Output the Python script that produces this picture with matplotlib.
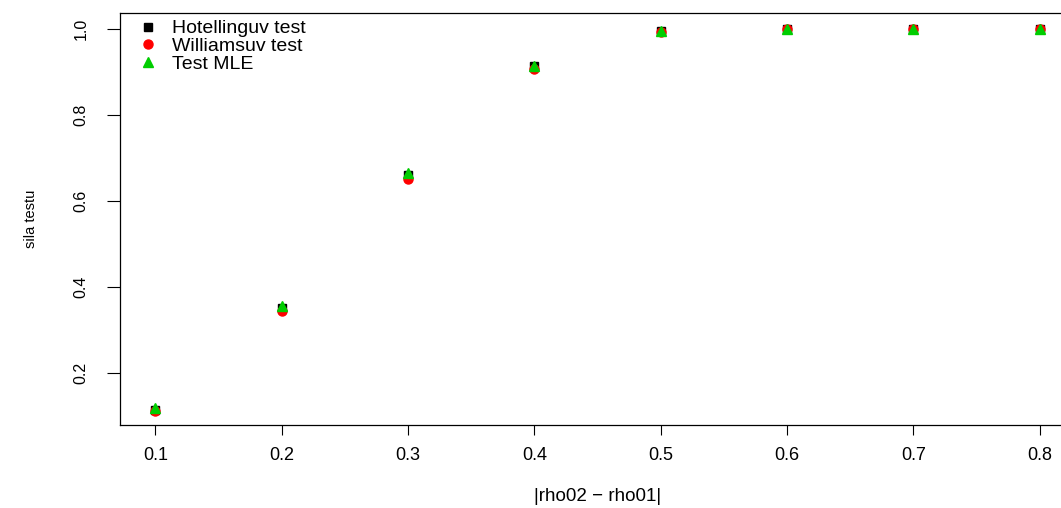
import matplotlib
matplotlib.use('Agg')
import matplotlib.pyplot as plt

# Data
rho_diff = [0.1, 0.2, 0.3, 0.4, 0.5, 0.6, 0.7, 0.8]
hotelling = [0.114, 0.350, 0.660, 0.913, 0.995, 1.000, 1.000, 1.000]
williams = [0.111, 0.345, 0.652, 0.907, 0.992, 0.999, 1.000, 1.000]
mle = [0.118, 0.356, 0.664, 0.914, 0.996, 1.000, 1.000, 1.000]
x_ticks = [0.1, 0.2, 0.3, 0.4, 0.5, 0.6, 0.7, 0.8]
y_ticks = [0.2, 0.4, 0.6, 0.8, 1.0]

plt.rcParams['font.family'] = ['Liberation Sans', 'DejaVu Sans']

fig = plt.figure(figsize=(10.61, 5.08), dpi=100)
# axes run off the right side of the picture, like the reference
ax = fig.add_axes([120 / 1061, 83 / 508, 955 / 1061, 412 / 508])

ax.plot(rho_diff, hotelling, 's', color='black', ms=6, label='Hotellinguv test')
ax.plot(rho_diff, williams, 'o', color='#FF0000', ms=6.5, label='Williamsuv test')
ax.plot(rho_diff, mle, '^', color='#00CD00', ms=7, label='Test MLE')

ax.set_xlim(0.072, 0.828)
ax.set_ylim(0.079, 1.037)
ax.set_xticks(x_ticks)
ax.set_xticklabels([f'{v:.1f}' for v in x_ticks])
ax.set_yticks(y_ticks)
ax.set_yticklabels([f'{v:.1f}' for v in y_ticks], rotation=90, va='center')
ax.tick_params(axis='x', direction='out', length=7, width=0.8, labelsize=13, pad=9)
ax.tick_params(axis='y', direction='out', length=9.5, width=0.8, labelsize=11.5, pad=13)
ax.spines['right'].set_visible(False)
for s in ['left', 'bottom', 'top']:
    ax.spines[s].set_linewidth(0.9)

ax.set_xlabel('|rho02 \u2212 rho01|', fontsize=13.5, labelpad=17)
ax.set_ylabel('sila testu', fontsize=10.5, labelpad=26)

ax.legend(loc='upper left', frameon=False, fontsize=14, handletextpad=0.6,
          labelspacing=0.0, borderaxespad=0.0, handlelength=1.3,
          borderpad=0.35, bbox_to_anchor=(0.009, 1.0))

fig.savefig('out.png', dpi=100)
